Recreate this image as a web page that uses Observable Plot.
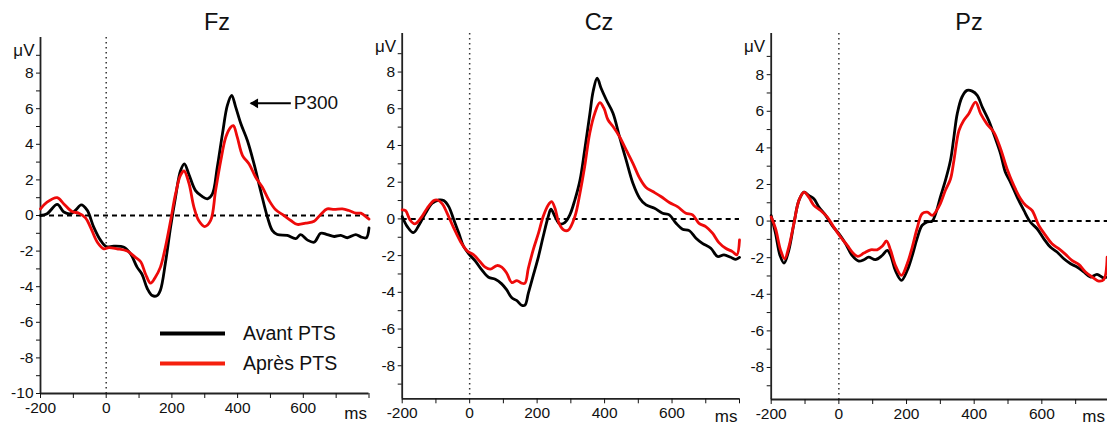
<!DOCTYPE html>
<html><head><meta charset="utf-8">
<script src="https://cdn.jsdelivr.net/npm/d3@7"></script>
<script src="https://cdn.jsdelivr.net/npm/@observablehq/plot@0.6"></script>
<style>
html,body{margin:0;padding:0;background:#fff;}
#wrap{position:relative;width:1107px;height:428px;overflow:hidden;font-family:"Liberation Sans",Arial,sans-serif;}
#wrap svg{position:absolute;top:0;}
</style></head><body><div id="wrap"></div>
<script>
// ---- data ----
const panels = ["Fz", "Cz", "Pz"];
const conditions = ["Avant PTS", "Après PTS"];
const colors = ["#000000", "#ee0a0a"];
const xTicks = [-200, -100, 0, 100, 200, 300, 400, 500, 600, 700, 800];
const xLabelTicks = [-200, 0, 200, 400, 600];
const yLabelsFz = [-10, -8, -6, -4, -2, 0, 2, 4, 6, 8];
const yLabels = [-8, -6, -4, -2, 0, 2, 4, 6, 8];
const yMinor = [-9, -7, -5, -3, -1, 1, 3, 5, 7, 9];

// [ms, µV]
const fzAvant = [[-200,0],[-180,0.1],[-149,0.62],[-129,0.2],[-108,0.1],[-93,0.3],[-76,0.6],[-58,0.3],[-38,-0.65],[-17,-1.4],[0,-1.75],[23,-1.72],[54,-1.78],[74,-2.15],[94,-2.9],[109,-3.3],[125,-4.1],[140,-4.5],[155,-4.5],[165,-4.2],[180,-2.7],[196,-0.65],[211,1.03],[226,2.5],[238,2.9],[251,2.35],[272,1.4],[290,1.1],[308,0.94],[323,1.2],[338,2.7],[354,4.6],[369,6.2],[382,6.75],[394,6.1],[410,5.15],[430,4.2],[450,2.9],[470,1.4],[491,-0.1],[506,-0.85],[521,-1.07],[551,-1.12],[577,-1.3],[592,-1.07],[612,-1.37],[633,-1.5],[653,-1.0],[673,-1.07],[694,-1.18],[714,-1.12],[734,-1.25],[760,-1.07],[775,-1.2],[792,-1.25],[800,-0.7]];
const fzApres = [[-200,0.37],[-180,0.75],[-149,1.0],[-129,0.65],[-104,0.22],[-83,0.13],[-63,-0.13],[-48,-0.65],[-27,-1.5],[-7,-1.87],[8,-1.8],[33,-1.87],[64,-2.0],[89,-2.35],[105,-2.6],[120,-3.3],[135,-3.8],[150,-3.45],[165,-2.9],[180,-1.8],[196,-0.3],[211,1.2],[226,2.25],[237,2.5],[252,1.8],[267,0.47],[282,-0.3],[300,-0.62],[318,-0.28],[333,1.4],[349,3.1],[364,4.4],[379,4.96],[387,5.05],[399,4.4],[415,3.37],[435,2.9],[455,2.15],[475,1.6],[496,0.84],[516,0.32],[541,0.0],[562,-0.28],[582,-0.5],[607,-0.43],[633,-0.32],[653,0.06],[673,0.37],[694,0.34],[719,0.37],[739,0.28],[760,0.13],[775,0.13],[795,-0.13],[800,-0.2]];
const czAvant = [[-200,0.13],[-185,-0.42],[-167,-0.75],[-150,-0.33],[-131,0.3],[-111,0.85],[-91,1.03],[-77,1.0],[-62,0.67],[-47,-0.05],[-32,-0.78],[-18,-1.5],[0,-1.96],[17,-2.3],[36,-2.78],[56,-3.18],[76,-3.29],[95,-3.54],[110,-3.87],[125,-4.3],[140,-4.45],[154,-4.7],[164,-4.7],[174,-4.05],[189,-3.05],[204,-2.05],[218,-0.96],[233,0.13],[241,0.53],[253,0.13],[267,-0.27],[282,-0.2],[297,0.22],[312,1.04],[327,2.1],[341,3.76],[356,5.67],[366,6.94],[378,7.67],[390,7.1],[405,6.49],[425,5.76],[444,4.49],[464,3.2],[484,1.94],[504,1.13],[523,0.76],[548,0.58],[572,0.31],[592,0.22],[612,-0.24],[631,-0.56],[651,-0.64],[671,-1.05],[690,-1.33],[715,-1.6],[735,-2.05],[754,-1.96],[774,-2.09],[789,-2.2],[800,-2.1]];
const czApres = [[-200,0.49],[-190,0.45],[-177,-0.05],[-163,-0.27],[-145,0.04],[-126,0.58],[-106,1.0],[-96,1.03],[-81,0.82],[-67,0.31],[-47,-0.5],[-27,-1.24],[-8,-1.73],[12,-1.96],[31,-2.33],[46,-2.63],[61,-2.74],[81,-2.54],[95,-2.63],[110,-2.96],[125,-3.47],[140,-3.36],[154,-3.5],[164,-3.5],[174,-2.69],[189,-1.65],[204,-0.78],[218,0.13],[233,0.76],[243,0.94],[253,0.58],[265,-0.24],[279,-0.6],[292,-0.62],[312,0.13],[327,1.4],[341,2.85],[356,4.67],[371,5.76],[386,6.33],[398,6.03],[410,5.4],[425,5.03],[444,4.49],[464,3.76],[484,3.03],[504,2.22],[523,1.71],[543,1.49],[567,1.22],[592,0.89],[616,0.67],[641,0.31],[661,0.22],[680,-0.24],[700,-0.42],[720,-0.78],[739,-1.29],[759,-1.6],[779,-1.78],[792,-1.96],[800,-1.15]];
const pzAvant = [[-200,0.3],[-187,-0.69],[-174,-1.88],[-162,-2.3],[-148,-1.6],[-133,-0.15],[-118,1.13],[-103,1.58],[-89,1.4],[-74,1.22],[-59,0.77],[-39,0.31],[-20,-0.24],[0,-0.69],[20,-1.24],[39,-1.88],[59,-2.19],[74,-2.11],[88,-1.97],[108,-2.11],[128,-1.88],[143,-1.6],[153,-1.88],[167,-2.7],[185,-3.24],[202,-2.7],[217,-1.88],[231,-0.97],[246,-0.24],[261,-0.05],[276,0],[286,0.4],[300,1.31],[315,2.22],[330,3.32],[340,4.59],[350,5.87],[364,6.78],[379,7.14],[394,7.1],[409,6.87],[424,6.23],[443,5.5],[463,4.5],[478,3.68],[492,2.68],[507,2.13],[527,1.31],[547,0.58],[566,-0.05],[586,-0.42],[606,-0.97],[625,-1.42],[645,-1.69],[665,-2.06],[685,-2.33],[704,-2.51],[724,-2.78],[744,-3.06],[763,-2.91],[783,-3.1],[800,-3.0]];
const pzApres = [[-200,0.22],[-187,-0.42],[-172,-1.6],[-160,-2.06],[-148,-1.42],[-133,-0.15],[-118,1.13],[-103,1.58],[-89,1.31],[-74,0.86],[-54,0.58],[-34,0.22],[-15,-0.33],[5,-0.87],[25,-1.33],[44,-1.79],[56,-1.93],[74,-1.75],[94,-1.57],[113,-1.57],[128,-1.38],[141,-1.09],[153,-1.6],[167,-2.42],[185,-2.97],[202,-2.33],[217,-1.42],[231,-0.42],[246,0.4],[261,0.49],[276,0.31],[288,0.55],[300,0.95],[315,1.68],[330,2.3],[340,3.3],[355,4.95],[369,5.5],[384,5.87],[404,6.5],[419,5.87],[438,5.3],[458,4.86],[478,3.95],[497,2.86],[517,1.95],[537,1.22],[552,0.86],[571,0.58],[591,-0.24],[611,-0.78],[630,-1.24],[650,-1.51],[670,-1.82],[689,-2.15],[709,-2.37],[729,-2.78],[749,-3.06],[768,-3.28],[783,-3.2],[793,-1.97]];

const series = {Fz: [fzAvant, fzApres], Cz: [czAvant, czApres], Pz: [pzAvant, pzApres]};
const p300 = [{x1: 562, x2: 440, y: 6.3, label: "P300"}];

// ---- layout (style only) ----
const layout = {
  Fz: {left: 0, width: 372, mL: 40, mR: 3.5, xRange: [40, 368.5], mT: 37, mB: 35, yDomain: [-10, 10], yTicks: yLabelsFz, titleX: 217, msDx: -2, msDy: 20},
  Cz: {left: 366, width: 374, mL: 35.7, mR: 1, xRange: [35.7, 373], mT: 33, mB: 29.7, yDomain: [-9.8, 10.1], yTicks: yLabels, titleX: 599, msDx: -2, msDy: 18},
  Pz: {left: 738, width: 369, mL: 32.7, mR: 0, xRange: [32.7, 371], mT: 33, mB: 29, yDomain: [-9.75, 10.25], yTicks: yLabels, titleX: 969, msDx: -2.5, msDy: 17.5}
};

const wrap = document.getElementById("wrap");
const font = '"Liberation Sans", Arial, sans-serif';

for (const name of panels) {
  const L = layout[name];
  const [avant, apres] = series[name];
  const marks = [
    Plot.ruleY([0], {stroke: "#000", strokeWidth: 2, strokeDasharray: "5,4"}),
    Plot.ruleX([0], {stroke: "#333", strokeWidth: 1.5, strokeDasharray: "1.5,3.5"}),
    Plot.ruleX([-200], {stroke: "#222", strokeWidth: 1.8}),
    Plot.ruleY([L.yDomain[0]], {stroke: "#222", strokeWidth: 1.8}),
    Plot.axisY({ticks: L.yTicks, tickSize: 4, tickPadding: 3, label: null, fontSize: 15.5, tickFormat: d => String(d)}),
    Plot.axisY({ticks: yMinor, tickSize: 4, label: null, tickFormat: () => ""}),
    Plot.axisX({ticks: xTicks, tickSize: 5, tickPadding: 3, label: null, fontSize: 15.5,
      tickFormat: d => xLabelTicks.includes(d) ? String(d) : ""}),
    Plot.text(["μV"], {text: d => d, frameAnchor: "top-left", textAnchor: "end", lineAnchor: "bottom", dx: -6, dy: 18.5, fontSize: 17}),
    Plot.text(["ms"], {text: d => d, frameAnchor: "bottom-right", textAnchor: "end", lineAnchor: "middle", dx: L.msDx, dy: L.msDy, fontSize: 17}),
    Plot.line(avant, {x: d => d[0], y: d => d[1], stroke: colors[0], strokeWidth: 2.8, curve: "catmull-rom"}),
    Plot.line(apres, {x: d => d[0], y: d => d[1], stroke: colors[1], strokeWidth: 2.8, curve: "catmull-rom"})
  ];
  if (name === "Fz") {
    marks.push(
      Plot.link(p300, {x1: "x1", x2: "x2", y1: "y", y2: "y", stroke: "#000", strokeWidth: 2}),
      Plot.dot(p300, {x: "x2", y: "y", symbol: "triangle", r: 3.6, rotate: -90, fill: "#000", stroke: "none", dx: 4.5}),
      Plot.text(p300, {x: "x1", y: "y", text: "label", textAnchor: "start", dx: 3, fontSize: 19})
    );
  }
  const svg = Plot.plot({
    width: L.width, height: 428,
    marginLeft: L.mL, marginRight: L.mR, marginTop: L.mT, marginBottom: L.mB,
    x: {domain: [-200, 800], range: L.xRange},
    y: {domain: L.yDomain},
    style: {fontFamily: font, fontSize: "15.5px", background: "transparent", color: "#111", overflow: "visible"},
    marks
  });
  svg.style.left = L.left + "px";
  wrap.appendChild(svg);
}

// overlay: titles and legend
const ov = d3.select(wrap).append("svg")
  .attr("width", 1107).attr("height", 428)
  .style("left", "0px").style("pointer-events", "none")
  .style("font-family", font);
ov.selectAll("text.title").data(panels).join("text")
  .attr("class", "title")
  .attr("x", d => layout[d].titleX).attr("y", 30)
  .attr("text-anchor", "middle").attr("font-size", 23.5).attr("fill", "#111")
  .text(d => d);
const leg = ov.append("g");
conditions.forEach((c, i) => {
  const y = 333.5 + i * 30;
  leg.append("line").attr("x1", 160).attr("x2", 225).attr("y1", y).attr("y2", y)
    .attr("stroke", i === 0 ? colors[0] : "#f5200e").attr("stroke-width", 4);
  leg.append("text").attr("x", 243).attr("y", y).attr("dy", "0.35em")
    .attr("font-size", 19.5).attr("fill", "#111").text(c);
});
</script>
</body></html>
